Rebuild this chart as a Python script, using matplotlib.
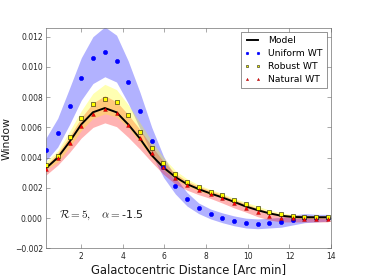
import matplotlib
matplotlib.use("Agg")
import matplotlib.pyplot as plt
import numpy as np

# Galactocentric distance grid [arc min]
distance = [0.33, 0.89, 1.46, 2.02, 2.58, 3.15, 3.71, 4.27, 4.84, 5.40, 5.96, 6.53,
            7.09, 7.65, 8.22, 8.78, 9.34, 9.91, 10.47, 11.03, 11.60, 12.16, 12.72, 13.29, 13.85]

# values in units of 1e-3
model = [3.3, 4.0, 5.05, 6.2, 7.0, 7.28, 7.0, 6.2, 5.25, 4.15, 3.35, 2.72,
         2.25, 1.92, 1.63, 1.37, 1.08, 0.77, 0.53, 0.32, 0.16, 0.08, 0.06, 0.06, 0.06]

uniform = [4.52, 5.65, 7.41, 9.27, 10.61, 10.99, 10.39, 8.98, 7.08, 5.12, 3.40, 2.12,
           1.24, 0.64, 0.26, 0.02, -0.16, -0.32, -0.37, -0.32, -0.25, -0.10, 0.02, 0.00, 0.02]
uniform_lo = [3.8, 4.7, 6.2, 7.8, 8.9, 9.35, 9.0, 7.6, 5.9, 4.2, 2.7, 1.6,
              0.8, 0.3, -0.05, -0.3, -0.5, -0.65, -0.7, -0.65, -0.6, -0.45, -0.3, -0.25, -0.2]
uniform_hi = [5.3, 6.6, 8.6, 10.6, 12.0, 12.65, 12.1, 10.4, 8.3, 6.0, 4.1, 2.7,
              1.7, 1.0, 0.6, 0.35, 0.15, 0.0, -0.05, 0.0, 0.05, 0.2, 0.3, 0.25, 0.25]

robust = [3.5, 4.13, 5.36, 6.6, 7.52, 7.9, 7.66, 6.82, 5.72, 4.61, 3.66, 2.89,
          2.4, 2.03, 1.74, 1.52, 1.19, 0.93, 0.68, 0.42, 0.26, 0.13, 0.09, 0.09, 0.09]
robust_lo = [3.2, 3.7, 4.7, 5.8, 6.6, 6.9, 6.7, 6.0, 5.0, 4.0, 3.2, 2.55,
             2.15, 1.8, 1.55, 1.33, 1.0, 0.75, 0.5, 0.27, 0.12, 0.0, -0.03, -0.03, -0.03]
robust_hi = [3.75, 4.45, 5.75, 7.1, 8.25, 8.85, 8.5, 7.5, 6.3, 5.1, 4.0, 3.15,
             2.6, 2.2, 1.9, 1.65, 1.32, 1.05, 0.8, 0.53, 0.36, 0.23, 0.18, 0.18, 0.18]

natural = [3.22, 3.99, 4.98, 6.1, 6.88, 7.21, 6.93, 6.15, 5.27, 4.28, 3.35, 2.63,
           2.18, 1.85, 1.59, 1.3, 0.97, 0.68, 0.38, 0.13, -0.02, -0.02, -0.03, -0.05, -0.05]
natural_lo = [2.85, 3.5, 4.35, 5.3, 6.0, 6.3, 6.05, 5.35, 4.55, 3.7, 2.9, 2.25,
              1.85, 1.55, 1.3, 1.0, 0.68, 0.4, 0.1, -0.12, -0.25, -0.25, -0.25, -0.25, -0.25]
natural_hi = [3.5, 4.3, 5.4, 6.65, 7.6, 8.1, 7.7, 6.85, 5.85, 4.75, 3.75, 2.95,
              2.45, 2.1, 1.82, 1.55, 1.22, 0.95, 0.66, 0.42, 0.25, 0.2, 0.18, 0.15, 0.15]

xticks = [2, 4, 6, 8, 10, 12, 14]
yticks = [-0.002, 0.0, 0.002, 0.004, 0.006, 0.008, 0.010, 0.012]

s = 1e-3
x = np.array(distance)
def sc(a):
    return np.array(a) * s

fig = plt.figure(figsize=(8, 6), dpi=46)
ax = fig.add_axes([0.125, 0.1, 0.775, 0.8])

ax.fill_between(x, sc(uniform_lo), sc(uniform_hi), color='blue', alpha=0.3, lw=0)
ax.fill_between(x, sc(natural_lo), sc(natural_hi), color='red', alpha=0.3, lw=0)
ax.fill_between(x, sc(robust_lo), sc(robust_hi), color='yellow', alpha=0.3, lw=0)

ax.plot(x, sc(model), color='black', lw=3.0, label='Model', zorder=3)
ax.plot(x, sc(uniform), 'o', color='blue', mec='blue', ms=6.5, label='Uniform WT', zorder=4)
ax.plot(x, sc(robust), 's', color='yellow', mec='black', mew=0.8, ms=7, label='Robust WT', zorder=5)
ax.plot(x, sc(natural), '^', color='red', mec='darkred', mew=0.6, ms=6, label='Natural WT', zorder=6)

ax.set_xlim(0.33, 14)
ax.set_ylim(-0.002, 0.0126)
ax.set_xticks(xticks)
ax.set_yticks(yticks)
ax.set_yticklabels(['\u22120.002', '0.000', '0.002', '0.004', '0.006', '0.008', '0.010', '0.012'])
ax.tick_params(direction='in', length=6, width=0.8, top=True, right=True,
               labelsize=12, colors='0.35', labelcolor='0.15', pad=5)
for sp in ax.spines.values():
    sp.set_color('0.4')
    sp.set_linewidth(1)

ax.set_xlabel('Galactocentric Distance [Arc min]', fontsize=18, color='0.1')
ax.set_ylabel('Window', fontsize=17, color='0.1')

plt.rcParams['mathtext.fontset'] = 'cm'
ax.text(0.95, 0.0002, r'$\mathcal{R}=5, \quad \alpha=$-1.5', fontsize=17.5, va='center', color='0.1')

leg = ax.legend(loc='upper right', numpoints=2, fontsize=14.5, frameon=True, fancybox=False,
                borderaxespad=0.5, handlelength=1.8, labelspacing=0.45, borderpad=0.4,
                markerscale=0.6, handletextpad=0.8)
leg.get_frame().set_edgecolor('0.2')
leg.get_frame().set_linewidth(1)

fig.savefig('out.png', dpi=46)
